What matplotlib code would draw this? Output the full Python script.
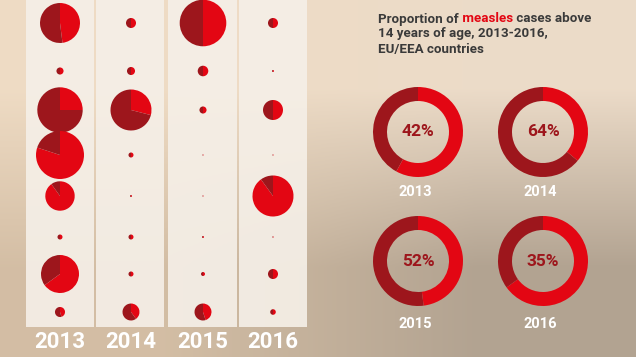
import numpy as np
import matplotlib
matplotlib.use("Agg")
import matplotlib.pyplot as plt
from matplotlib.patches import Rectangle
from matplotlib import font_manager

# ---------------- data ----------------
years = ["2013", "2014", "2015", "2016"]
# measles cases per age group (rows, top to bottom)
cases_2013 = [4440, 140, 5720, 6400, 2400, 70, 4010, 280]
cases_2014 = [280, 180, 4670, 70, 11, 70, 70, 800]
cases_2015 = [6030, 310, 140, 4, 4, 11, 44, 800]
cases_2016 = [280, 11, 1110, 4, 4670, 5, 280, 87]
# share of the dark slice in each bubble
dark_2013 = [0.52, 0.5, 0.75, 0.2, 0.1, 0.5, 0.35, 0.55]
dark_2014 = [0.5, 0.5, 0.71, 0.5, 0.5, 0.5, 0.5, 0.6]
dark_2015 = [0.5, 0.5, 0.5, 0.5, 0.5, 0.5, 0.5, 0.55]
dark_2016 = [0.5, 0.5, 0.5, 0.5, 0.1, 0.5, 0.5, 0.5]
# proportion of cases above 14 years of age (%)
above14_pct = [42, 64, 52, 35]

title_parts = ["Proportion of", " measles", " cases above"]
title_line2 = "14 years of age, 2013-2016,"
title_line3 = "EU/EEA countries"

# ---------------- style ----------------
RED = "#e30613"
DARK = "#9d161c"
TXT = "#3a3a3a"
W, H = 636, 357

avail = {f.name for f in font_manager.fontManager.ttflist}
FONT = "Roboto" if "Roboto" in avail else "DejaVu Sans"
plt.rcParams["font.family"] = [FONT, "DejaVu Sans"]

fig = plt.figure(figsize=(W / 100, H / 100), dpi=100)
ax = fig.add_axes([0, 0, 1, 1])

def Y(y):
    return H - y

# background gradient
grad = np.array([[[0.937, 0.862, 0.770], [0.925, 0.860, 0.785]],
                 [[0.830, 0.745, 0.645], [0.700, 0.640, 0.570]]])
ax.imshow(grad, extent=[0, W, 0, H], interpolation="bilinear", aspect="auto", zorder=0)

# panels
col_x = [60, 131, 203, 273]
panel_l = [26, 96, 168, 239]
panel_r = [94, 164, 237, 307]
row_y = [23, 71, 110, 155, 196, 237, 274, 312]
for l, r in zip(panel_l, panel_r):
    ax.add_patch(Rectangle((l, Y(327)), r - l, 340, facecolor="#f5efe7",
                           edgecolor="none", alpha=0.92, zorder=1))

all_cases = [cases_2013, cases_2014, cases_2015, cases_2016]
all_dark = [dark_2013, dark_2014, dark_2015, dark_2016]
for ci, (cs, ds) in enumerate(zip(all_cases, all_dark)):
    for ri, (c, d) in enumerate(zip(cs, ds)):
        rad = 0.3 * np.sqrt(c)
        wedges, _ = ax.pie([1 - d, d], colors=[RED, DARK], startangle=90,
                           counterclock=False, radius=rad,
                           center=(col_x[ci], Y(row_y[ri])), frame=True,
                           wedgeprops=dict(linewidth=0))
        for w in wedges:
            w.set_zorder(3)

# bottom year labels
for ci, yr in enumerate(years):
    ax.text(col_x[ci], Y(342), yr, ha="center", va="center", color="white",
            fontsize=16, fontweight="bold", zorder=4)

# title
ts = 9.6
t = ax.text(378, Y(19), title_parts[0], ha="left", va="center", color=TXT,
            fontsize=ts, fontweight="bold", zorder=4)
t2 = ax.annotate(title_parts[1], xy=(1, 0), xycoords=t, ha="left", va="bottom",
                 color=RED, fontsize=ts, fontweight="bold", zorder=4)
ax.annotate(title_parts[2], xy=(1, 0), xycoords=t2, ha="left", va="bottom",
            color=TXT, fontsize=ts, fontweight="bold", zorder=4)
ax.text(378, Y(34), title_line2, ha="left", va="center", color=TXT,
        fontsize=ts, fontweight="bold", zorder=4)
ax.text(378, Y(49), title_line3, ha="left", va="center", color=TXT,
        fontsize=ts, fontweight="bold", zorder=4)

# donuts
dn_x = [418, 543, 418, 543]
dn_y = [132, 132, 261, 261]
lab_y = [192, 192, 324, 324]
R_OUT, R_W = 45, 14
for i, p in enumerate(above14_pct):
    wedges, _ = ax.pie([100 - p, p], colors=[RED, DARK], startangle=90,
                       counterclock=False, radius=R_OUT,
                       center=(dn_x[i], Y(dn_y[i])), frame=True,
                       wedgeprops=dict(width=R_W, linewidth=0))
    for w in wedges:
        w.set_zorder(3)
    ax.text(dn_x[i], Y(dn_y[i]), f"{p}%", ha="center", va="center", color=DARK,
            fontsize=12.5, fontweight="bold", zorder=4)
    ax.text(dn_x[i] - 3, Y(lab_y[i]), years[i], ha="center", va="center",
            color="white", fontsize=10.5, fontweight="bold", zorder=4)

ax.set_xlim(0, W)
ax.set_ylim(0, H)
ax.set_aspect("auto")
ax.axis("off")
fig.savefig("out.png", dpi=100)
